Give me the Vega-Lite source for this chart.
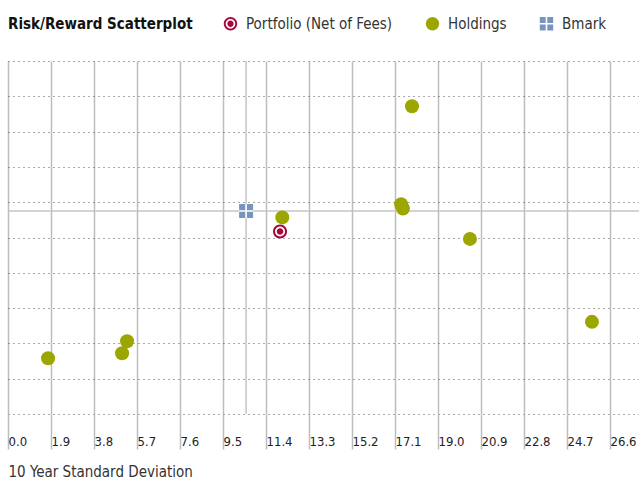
{
  "$schema": "https://vega.github.io/schema/vega-lite/v6.json",
  "width": 631,
  "height": 353,
  "autosize": {"type": "none"},
  "padding": {"left": 8, "top": 61, "right": 0, "bottom": 68},
  "background": "white",
  "config": {
    "view": {"stroke": null},
    "font": "DejaVu Sans Condensed, DejaVu Sans, sans-serif",
    "axisX": {"values": [0,1.9,3.8,5.7,7.6,9.5,11.4,13.3,15.2,17.1,19.0,20.9,22.8,24.7,26.6], "format": ".1f",
            "grid": true, "gridColor": "#bdbdbd", "gridWidth": 1.5, "ticks": true, "tickColor": "#bdbdbd", "tickWidth": 1.5, "tickSize": 35,
            "domain": false, "labelAlign": "left", "labelDx": 3, "labelPadding": -8, "labelBaseline": "middle",
            "labelFontSize": 13, "labelColor": "#222", "labelFlush": false, "labelOverlap": false,
            "titleAnchor": "start", "titleAlign": "left", "titleX": 0, "titleY": 57,
            "titleBaseline": "middle", "titleFontSize": 15, "titleFontWeight": "normal", "titleColor": "#333"},
    "axisY": {"values": [0,1,2,3,4,5,6,7,8,9,10], "labels": false, "ticks": false, "domain": false, "grid": true, "gridColor": "#555", "gridDash": [1, 4], "gridWidth": 1}
  },
  "data": {
    "values": [
      {"series": "Portfolio (Net of Fees)", "x": 12.02, "y": 5.17},
      {"series": "Holdings", "x": 12.12, "y": 5.57},
      {"series": "Holdings", "x": 17.85, "y": 8.72},
      {"series": "Holdings", "x": 17.37, "y": 5.94},
      {"series": "Holdings", "x": 17.45, "y": 5.82},
      {"series": "Holdings", "x": 20.41, "y": 4.96},
      {"series": "Holdings", "x": 25.8, "y": 2.61},
      {"series": "Holdings", "x": 1.77, "y": 1.58},
      {"series": "Holdings", "x": 5.04, "y": 1.72},
      {"series": "Holdings", "x": 5.26, "y": 2.06},
      {"series": "Bmark", "x": 10.52, "y": 5.75}
    ]
  },
  "layer": [
    {
      "transform": [{"filter": "datum.series === 'Bmark'"}],
      "mark": {"type": "rule", "color": "#c4c4c4", "strokeWidth": 1.5},
      "encoding": {
        "y": {"field": "y", "type": "quantitative", "scale": {"domain": [0, 10], "nice": false, "zero": false},
          "axis": {"values": [0,1,2,3,4,5,6,7,8,9,10], "title": null}}
      }
    },
    {
      "transform": [{"filter": "datum.series === 'Bmark'"}],
      "mark": {"type": "rule", "color": "#c4c4c4", "strokeWidth": 1.5},
      "encoding": {
        "x": {"field": "x", "type": "quantitative", "scale": {"domain": [0, 27.88], "nice": false, "zero": false},
          "axis": {"values": [0,1.9,3.8,5.7,7.6,9.5,11.4,13.3,15.2,17.1,19.0,20.9,22.8,24.7,26.6], "title": "10 Year Standard Deviation"}}
      }
    },
    {
      "transform": [{"filter": "datum.series === 'Bmark'"}],
      "mark": {"type": "point", "shape": "square", "filled": true, "color": "white", "opacity": 1, "size": 196},
      "encoding": {
        "x": {"field": "x", "type": "quantitative", "axis": {"values": [0,1.9,3.8,5.7,7.6,9.5,11.4,13.3,15.2,17.1,19.0,20.9,22.8,24.7,26.6], "title": "10 Year Standard Deviation"}},
        "y": {"field": "y", "type": "quantitative", "axis": {"values": [0,1,2,3,4,5,6,7,8,9,10], "title": null}}
      }
    },
    {
      "mark": {"type": "point", "filled": true, "opacity": 1, "size": 196},
      "encoding": {
        "x": {"field": "x", "type": "quantitative", "axis": {"values": [0,1.9,3.8,5.7,7.6,9.5,11.4,13.3,15.2,17.1,19.0,20.9,22.8,24.7,26.6], "title": "10 Year Standard Deviation"}},
        "y": {"field": "y", "type": "quantitative", "axis": {"values": [0,1,2,3,4,5,6,7,8,9,10], "title": null}},
        "color": {"field": "series", "type": "nominal",
          "scale": {"domain": ["Portfolio (Net of Fees)", "Holdings", "Bmark"], "range": ["#a5093b", "#9ca600", "#7896bd"]},
          "legend": {"orient": "none", "legendX": 0, "legendY": -45, "direction": "horizontal",
            "title": "Risk/Reward Scatterplot", "titleOrient": "left", "titleFontSize": 15, "titleFontWeight": "bold", "titleColor": "#111", "titleLimit": 400,
            "titlePadding": 30, "labelFontSize": 15, "labelColor": "#333", "labelLimit": 400, "labelOffset": 8, "symbolSize": 180, "columnPadding": 32, "padding": 0}},
        "shape": {"field": "series", "type": "nominal",
          "scale": {"domain": ["Portfolio (Net of Fees)", "Holdings", "Bmark"],
            "range": ["M-1,0A1,1,0,1,1,1,0A1,1,0,1,1,-1,0ZM-0.71,0A0.71,0.71,0,1,0,0.71,0A0.71,0.71,0,1,0,-0.71,0ZM-0.47,0A0.47,0.47,0,1,1,0.47,0A0.47,0.47,0,1,1,-0.47,0Z", "circle", "M-1,-1H-0.12V-0.12H-1ZM0.12,-1H1V-0.12H0.12ZM-1,0.12H-0.12V1H-1ZM0.12,0.12H1V1H0.12Z"]},
          "legend": null}
      }
    }
  ]
}
